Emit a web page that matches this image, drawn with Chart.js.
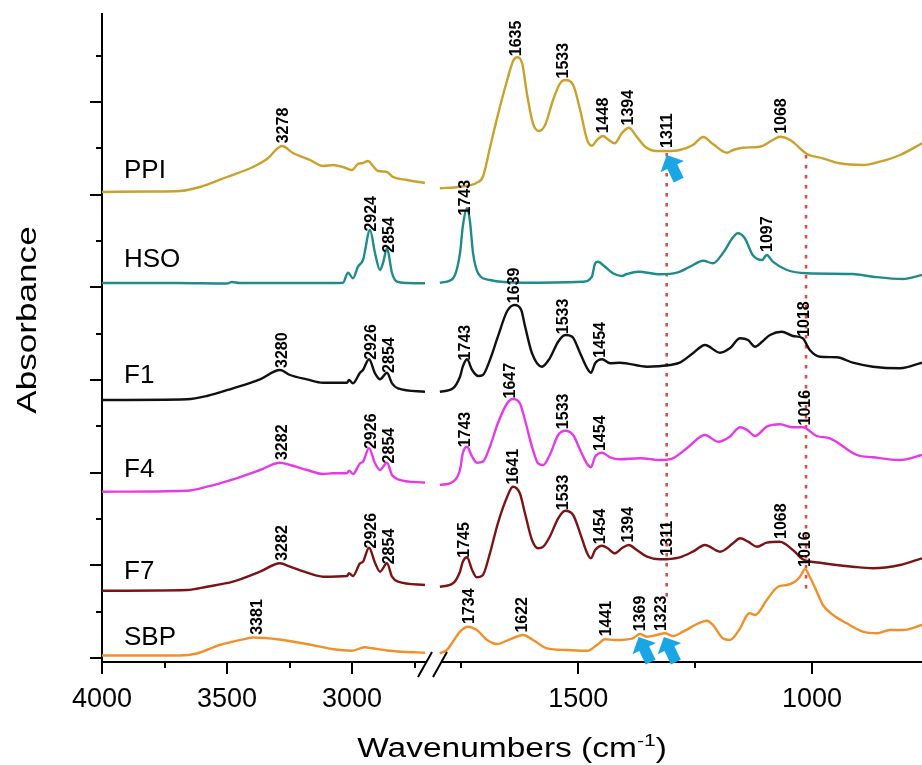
<!DOCTYPE html>
<html lang="en">
<head>
<meta charset="UTF-8">
<title>FTIR</title>
<script src="https://cdn.jsdelivr.net/npm/chart.js"></script>
<style>
  html, body { margin: 0; padding: 0; background: #fff; overflow: hidden; }
  canvas { display: block; }
</style>
</head>
<body>
<canvas id="grafico" width="922" height="765"></canvas>
<script>
// [wavenumber cm-1, absorbance (stacked, arbitrary units)]
const ppiL = [[4000,468],[3800,468.5],[3688,469],[3608,473],[3500,483],[3396,493],[3340,501],[3280,514],[3236,507],[3168,500],[3116,494],[3076,495],[3036,493],[3000,490],[2976,496],[2956,497],[2936,499],[2916,494],[2896,489],[2860,488],[2836,483],[2780,480],[2708,477]];
const ppiR = [[1796,471.7],[1753,473.3],[1717,477.3],[1704,483.3],[1689,512],[1672,545],[1652,580],[1640,598.3],[1631,602.7],[1620,596.7],[1610,566.7],[1597,536.7],[1584,529],[1571,535],[1554,560],[1539,576.7],[1528,580],[1511,575],[1496,550],[1481,520],[1471,514.3],[1460,520],[1447,524],[1437,520.7],[1422,516.7],[1407,526.7],[1392,532.3],[1375,523.3],[1357,513.3],[1332,509],[1310,509],[1283,510],[1255,515],[1233,523],[1212,516],[1182,507.3],[1169,510],[1148,512.3],[1112,513.3],[1084,520],[1069,523.3],[1047,520],[1011,506],[977,501.7],[941,496.7],[891,495],[855,498.3],[812,505],[765,516.7]];

const hsoL = [[4000,377],[3700,377],[3500,376.5],[3480,378],[3450,377],[3100,377],[3036,377.3],[3016,387.3],[2996,381.7],[2976,393.3],[2956,400],[2928,430],[2908,407],[2888,390],[2876,397],[2860,411.7],[2840,387],[2820,378.3],[2780,377],[2708,376.7]];
const hsoR = [[1796,377.3],[1768,381.7],[1753,406.7],[1747,433.3],[1738,451.7],[1732,440],[1725,406.7],[1714,386.7],[1689,380],[1618,377.3],[1490,378.3],[1471,383.3],[1464,396.7],[1458,398.3],[1443,393.3],[1426,386.7],[1407,384],[1396,386],[1372,388.3],[1325,385.7],[1289,387.3],[1261,393.3],[1233,399.3],[1212,396.7],[1191,406.7],[1169,422.7],[1159,426.7],[1144,421.7],[1127,405],[1107,400],[1097,405],[1084,398.3],[1054,390],[1011,386.7],[913,386],[870,383.3],[806,381],[765,385]];

const f1L = [[4000,260],[3660,260.7],[3580,264],[3476,271.7],[3368,280.7],[3288,290],[3248,285],[3180,280.7],[3116,277.3],[3020,277.3],[3012,280],[2996,276.7],[2968,287.3],[2956,290],[2932,300.7],[2908,286.7],[2888,280.7],[2860,287.3],[2840,276.7],[2816,271.7],[2708,268.3]];
const f1R = [[1796,268.3],[1768,271.7],[1753,283.3],[1747,293.3],[1738,300.7],[1727,290],[1714,284],[1704,285],[1689,300],[1672,323.3],[1652,349],[1636,355],[1622,350],[1614,334],[1599,306.7],[1578,293.3],[1561,301.7],[1543,318.3],[1528,325],[1513,323.3],[1496,306.7],[1481,291.7],[1473,287.3],[1464,296.7],[1449,300.7],[1432,296.7],[1411,297.3],[1353,293.3],[1304,295],[1283,297.3],[1255,306.7],[1229,315],[1197,307.3],[1176,311.7],[1154,321.7],[1137,320],[1122,313.3],[1107,318.3],[1090,325],[1065,328.3],[1041,324],[1020,321.7],[1005,310],[983,303.3],[947,302.7],[913,297.3],[870,293.3],[812,291.7],[765,297.3]];

const f4L = [[4000,168.3],[3660,169.3],[3580,173.3],[3476,180.7],[3368,190],[3288,197.3],[3248,195],[3180,190],[3116,186],[3076,186.7],[3020,186.7],[3012,189.3],[2996,186],[2968,196.7],[2956,198.3],[2932,211.7],[2908,196.7],[2888,190],[2860,197.3],[2840,185],[2816,180.7],[2708,177.3]];
const f4R = [[1796,175],[1768,178.3],[1753,190],[1747,206.7],[1738,213.3],[1727,203.3],[1717,197.3],[1704,198.3],[1689,213.3],[1672,236.7],[1652,256.7],[1640,261],[1625,256.7],[1614,240],[1599,213.3],[1586,196.7],[1575,195],[1561,205],[1543,225],[1528,229.3],[1511,225],[1496,210],[1481,196],[1473,192.7],[1464,203.3],[1449,207.3],[1432,202.7],[1411,200.7],[1368,201.7],[1325,200],[1298,201.7],[1268,211.7],[1229,225],[1201,218.3],[1176,223.3],[1154,232.7],[1139,230],[1122,224],[1097,233.3],[1069,235.7],[1041,232.7],[1020,232.7],[990,224],[962,221.7],[904,205],[870,202.7],[812,200],[765,205]];

const f7L = [[4000,69.3],[3660,70],[3580,73.3],[3476,78.3],[3368,88.3],[3288,96.7],[3248,93.3],[3180,87.3],[3116,83.3],[3020,84],[3012,86.7],[2996,84],[2968,96.7],[2956,98.3],[2932,112.3],[2908,97.3],[2888,88.3],[2860,96.7],[2840,83.3],[2816,78.3],[2708,75]];
const f7R = [[1796,73.3],[1768,76.7],[1753,88.3],[1747,98.3],[1738,102.7],[1727,90],[1717,82.7],[1704,85],[1689,106.7],[1672,136.7],[1652,163.3],[1640,173.3],[1625,166.7],[1614,146.7],[1599,120],[1586,111.7],[1575,113.3],[1561,123.3],[1543,141.7],[1528,149.3],[1511,145],[1496,126.7],[1481,106.7],[1473,101.7],[1464,110],[1449,114.3],[1437,111.7],[1422,106.7],[1407,111.7],[1392,115],[1375,110],[1353,103.3],[1325,100.7],[1283,102.7],[1255,108.3],[1229,115],[1197,108.3],[1169,116.7],[1154,121.7],[1137,118.3],[1118,113.3],[1097,117.3],[1069,118.3],[1041,110],[1020,100.7],[983,97.3],[913,93.3],[870,91.7],[812,95],[765,101.7]];

const sbpL = [[4000,4.5],[3690,4.5],[3620,6.5],[3530,15],[3420,21.5],[3396,22.5],[3290,20.5],[3160,15],[3080,11],[3000,9.3],[2950,12.7],[2920,11.7],[2860,9.5],[2800,8.3],[2708,7.3]];
const sbpR = [[1796,6.7],[1781,10],[1768,18.3],[1753,28.3],[1736,33.3],[1717,30],[1695,20],[1674,16],[1646,20.7],[1618,25],[1597,20],[1567,11.7],[1524,10],[1481,9.3],[1460,15],[1443,20.7],[1422,20],[1383,21.7],[1368,26],[1353,23.3],[1332,25],[1315,26.7],[1298,24],[1276,28.3],[1246,36],[1225,39.3],[1212,35],[1191,21.7],[1176,20],[1154,31.7],[1139,45],[1133,46.7],[1122,45],[1097,60],[1073,73.3],[1054,75],[1037,78.3],[1026,83.3],[1015,90.7],[1005,83.3],[990,68.3],[977,55],[955,45],[926,36.7],[891,28.3],[861,26.7],[834,30],[806,30],[765,35]];

const nomes = ['PPI', 'HSO', 'F1', 'F4', 'F7', 'SBP'];
const cores = ['#c9a12b', '#1f8b8b', '#111111', '#e53ae5', '#7b1414', '#f0902a'];
const segEsq = [ppiL, hsoL, f1L, f4L, f7L, sbpL];
const segDir = [ppiR, hsoR, f1R, f4R, f7R, sbpR];
const nomeY = [482, 393, 277, 183, 81, 15];

const picos = [
  [3278, 1635, 1533, 1448, 1394, 1311, 1068],
  [2924, 2854, 1743, 1097],
  [3280, 2926, 2854, 1743, 1639, 1533, 1454, 1018],
  [3282, 2926, 2854, 1743, 1647, 1533, 1454, 1016],
  [3282, 2926, 2854, 1745, 1641, 1533, 1454, 1394, 1311, 1068],
  [3381, 1734, 1622, 1441, 1369, 1323, 1016]
];

const ticksEsq = [4000, 3750, 3500, 3250, 3000, 2750];
const ticksDir = [1750, 1500, 1250, 1000];
const rotulosX = [4000, 3500, 3000, 1500, 1000];
const ticksY = [2, 48, 95, 141, 187, 234, 280, 326, 373, 419, 465, 512, 558, 604];

// dotted guide lines: [wavenumber, top, bottom]
const linhasPontilhadas = [[1311, 507, 62], [1013, 505, 70]];
// arrow tips: [wavenumber, absorbance]
const setas = [[1311, 505], [1371, 23], [1317, 23]];

function pontos(arr) {
  return arr.map(p => ({ x: p[0], y: p[1] }));
}

function interpolar(arr, wn) {
  for (let i = 0; i < arr.length - 1; i++) {
    const a = arr[i], b = arr[i + 1];
    if (wn <= a[0] && wn >= b[0]) {
      const t = (a[0] - wn) / (a[0] - b[0]);
      return a[1] + t * (b[1] - a[1]);
    }
  }
  return arr[arr.length - 1][1];
}

const datasets = [];
nomes.forEach((nome, i) => {
  [['xL', segEsq[i]], ['xR', segDir[i]]].forEach(([eixo, seg]) => {
    datasets.push({
      label: nome,
      data: pontos(seg),
      xAxisID: eixo,
      borderColor: cores[i],
      borderWidth: 2.4,
      pointRadius: 0,
      fill: false,
      cubicInterpolationMode: 'monotone'
    });
  });
});
linhasPontilhadas.forEach(l => {
  datasets.push({
    label: 'guia',
    data: [{ x: l[0], y: l[1] }, { x: l[0], y: l[2] }],
    xAxisID: 'xR',
    borderColor: '#e24a4a',
    borderWidth: 2.6,
    borderDash: [3.5, 6.5],
    pointRadius: 0,
    tension: 0
  });
});

const fonte = '"Liberation Sans", Arial, sans-serif';

const decoracao = {
  id: 'decoracao',
  afterDraw(chart) {
    const c = chart.ctx;
    const y = chart.scales.y;
    const xL = chart.scales.xL;
    const xR = chart.scales.xR;
    const area = chart.chartArea;
    c.save();
    c.strokeStyle = '#000';
    c.lineWidth = 2;

    // tick marks
    [[xL, ticksEsq], [xR, ticksDir]].forEach(([s, lista]) => {
      lista.forEach(v => {
        const px = Math.round(s.getPixelForValue(v));
        const len = rotulosX.includes(v) ? 12 : 6;
        c.beginPath();
        c.moveTo(px, area.bottom);
        c.lineTo(px, area.bottom + len);
        c.stroke();
      });
    });
    ticksY.forEach((v, i) => {
      const py = Math.round(y.getPixelForValue(v));
      const len = i % 2 === 0 ? 12 : 6;
      c.beginPath();
      c.moveTo(area.left - len, py);
      c.lineTo(area.left, py);
      c.stroke();
    });

    // axis break
    const b = xR.left;
    c.fillStyle = '#fff';
    c.fillRect(b - 12, area.bottom - 5, 15, 10);
    c.beginPath();
    c.moveTo(b - 20, area.bottom + 15);
    c.lineTo(b - 6, area.bottom - 10);
    c.moveTo(b - 5, area.bottom + 15);
    c.lineTo(b + 9, area.bottom - 10);
    c.stroke();

    // series names
    c.fillStyle = '#000';
    c.font = '26px ' + fonte;
    c.textAlign = 'left';
    c.textBaseline = 'alphabetic';
    nomes.forEach((n, i) => {
      c.fillText(n, area.left + 22, y.getPixelForValue(nomeY[i]));
    });

    // peak labels
    c.font = 'bold 16px ' + fonte;
    c.textBaseline = 'middle';
    picos.forEach((lista, i) => {
      lista.forEach(wn => {
        const esq = wn > 2000;
        const s = esq ? xL : xR;
        const val = interpolar(esq ? segEsq[i] : segDir[i], wn);
        const px = s.getPixelForValue(wn) + 1;
        const py = y.getPixelForValue(val) - 3;
        c.save();
        c.translate(px, py);
        c.rotate(-Math.PI / 2);
        c.fillText(String(wn), 0, 0);
        c.restore();
      });
    });

    // arrows
    c.fillStyle = '#1aa6e4';
    const d = [-0.43, -0.9];
    const n = [0.9, -0.43];
    setas.forEach(([wn, v]) => {
      const tx = xR.getPixelForValue(wn);
      const ty = y.getPixelForValue(v);
      const bx = tx - d[0] * 13, by = ty - d[1] * 13;
      const ex = tx - d[0] * 28, ey = ty - d[1] * 28;
      c.beginPath();
      c.moveTo(tx, ty);
      c.lineTo(bx + n[0] * 13, by + n[1] * 13);
      c.lineTo(bx + n[0] * 5.5, by + n[1] * 5.5);
      c.lineTo(ex + n[0] * 5.5, ey + n[1] * 5.5);
      c.lineTo(ex - n[0] * 5.5, ey - n[1] * 5.5);
      c.lineTo(bx - n[0] * 5.5, by - n[1] * 5.5);
      c.lineTo(bx - n[0] * 13, by - n[1] * 13);
      c.closePath();
      c.fill();
    });

    // axis titles
    c.fillStyle = '#000';
    c.textBaseline = 'alphabetic';
    c.font = '27px ' + fonte;
    c.save();
    c.translate(36, area.top + 306);
    c.rotate(-Math.PI / 2);
    c.scale(1.3, 1);
    c.textAlign = 'center';
    c.fillText('Absorbance', 0, 0);
    c.restore();

    const k = 1.24;
    const base = 757;
    const t1 = 'Wavenumbers (cm';
    const t2 = '-1';
    const t3 = ')';
    c.font = '27px ' + fonte;
    const w1 = c.measureText(t1).width * k;
    const w3 = c.measureText(t3).width * k;
    c.font = '17px ' + fonte;
    const w2 = c.measureText(t2).width * k;
    let x0 = (area.left + area.right) / 2 - (w1 + w2 + w3) / 2;
    c.textAlign = 'left';
    c.save();
    c.translate(x0, base); c.scale(k, 1);
    c.font = '27px ' + fonte;
    c.fillText(t1, 0, 0);
    c.restore();
    c.save();
    c.translate(x0 + w1, base - 11); c.scale(k, 1);
    c.font = '17px ' + fonte;
    c.fillText(t2, 0, 0);
    c.restore();
    c.save();
    c.translate(x0 + w1 + w2, base); c.scale(k, 1);
    c.font = '27px ' + fonte;
    c.fillText(t3, 0, 0);
    c.restore();

    c.restore();
  }
};

function eixoX(min, max, peso, lista) {
  return {
    type: 'linear',
    position: 'bottom',
    stack: 'x',
    stackWeight: peso,
    reverse: true,
    min: min,
    max: max,
    afterBuildTicks: s => { s.ticks = lista.map(v => ({ value: v })); },
    afterFit: s => { s.height = 103; },
    ticks: {
      autoSkip: false,
      maxRotation: 0,
      padding: 0,
      color: '#000',
      font: { family: fonte, size: 27 },
      callback: v => rotulosX.includes(v) ? String(v) : ''
    },
    grid: { display: true, drawOnChartArea: false, drawTicks: true, tickLength: 21, tickColor: 'rgba(0,0,0,0)', color: 'rgba(0,0,0,0)' },
    border: { display: true, color: '#000', width: 2 }
  };
}

const grafico = new Chart(document.getElementById('grafico').getContext('2d'), {
  type: 'line',
  data: { datasets: datasets },
  options: {
    responsive: false,
    animation: false,
    layout: { padding: { top: 14, right: 0, left: 0, bottom: 0 } },
    plugins: { legend: { display: false }, tooltip: { enabled: false } },
    scales: {
      y: {
        type: 'linear',
        position: 'left',
        min: -2,
        max: 646,
        afterBuildTicks: s => { s.ticks = ticksY.map(v => ({ value: v })); },
        afterFit: s => { s.width = 102; },
        ticks: { display: false, padding: 0 },
        grid: { display: false, drawTicks: false },
        border: { display: true, color: '#000', width: 2 }
      },
      xL: eixoX(2656, 4000, 336, ticksEsq),
      xR: eixoX(765, 1800, 484, ticksDir)
    }
  },
  plugins: [decoracao]
});
</script>
</body>
</html>
